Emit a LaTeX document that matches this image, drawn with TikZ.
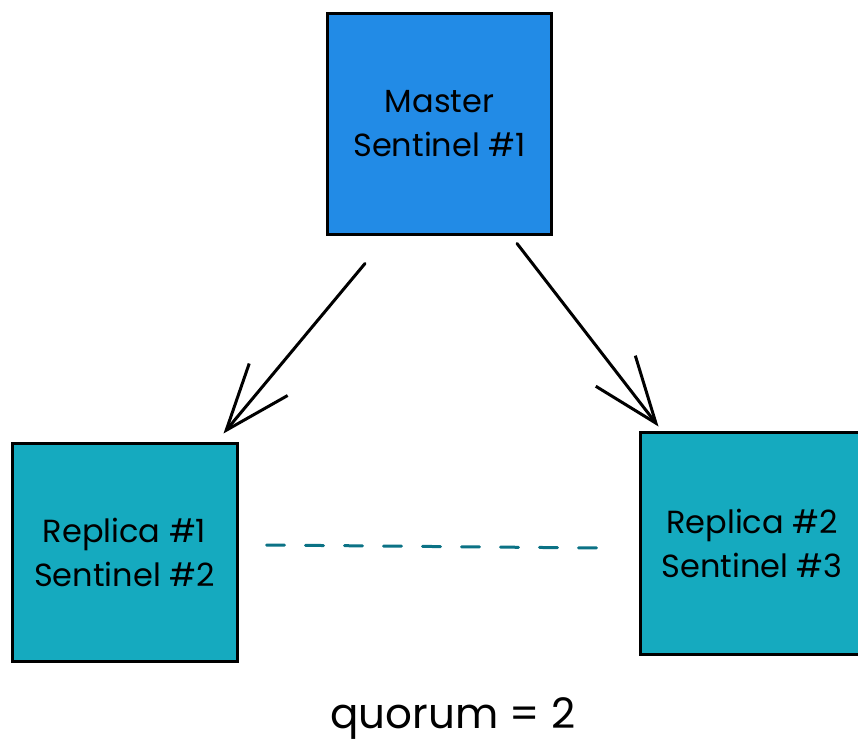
\documentclass[tikz,border=0pt]{standalone}
\usepackage{fontspec}
\setmainfont{Poppins}
\usetikzlibrary{arrows.meta,calc}
\definecolor{masterblue}{HTML}{228BE6}
\definecolor{replicacyan}{HTML}{15AABF}
\definecolor{dashcyan}{HTML}{0B7285}
\tikzset{
  box/.style={draw=black, line width=3pt, minimum width=224pt, minimum height=220pt,
    align=center, font=\fontsize{32}{44}\selectfont, inner sep=0pt},
  conn/.style={line width=3pt, line cap=round, -{Straight Barb[length=66pt, width=50pt, line width=3pt]}},
  link/.style={draw=dashcyan, line width=3pt, line cap=round, dash pattern=on 18pt off 21pt},
}
\begin{document}
\begin{tikzpicture}[x=1pt,y=-1pt]
\useasboundingbox (0,0) rectangle (858,743);
\node[box, fill=masterblue] (master) at (439.5,124) {Master\\Sentinel \#1};
\node[box, fill=replicacyan, minimum height=218pt, minimum width=225pt] (rep1) at (124.5,552) {Replica \#1\\Sentinel \#2};
\node[box, fill=replicacyan, minimum height=222pt] (rep2) at (752,543) {Replica \#2\\Sentinel \#3};
\draw[conn] ($(master.south)+(-74.5,28)$) -- ($(rep1.north east)+(-15,-8)$);
\draw[conn] ($(master.south)+(77.5,8)$) -- ($(rep2.north west)+(20,-4)$);
\draw[link] ($(rep1.east)+(28,-7)$) -- ($(rep2.west)+(-40,5)$);
\node[font=\fontsize{42}{46}\selectfont] (quorum) at (453,718) {quorum = 2};
\end{tikzpicture}
\end{document}
